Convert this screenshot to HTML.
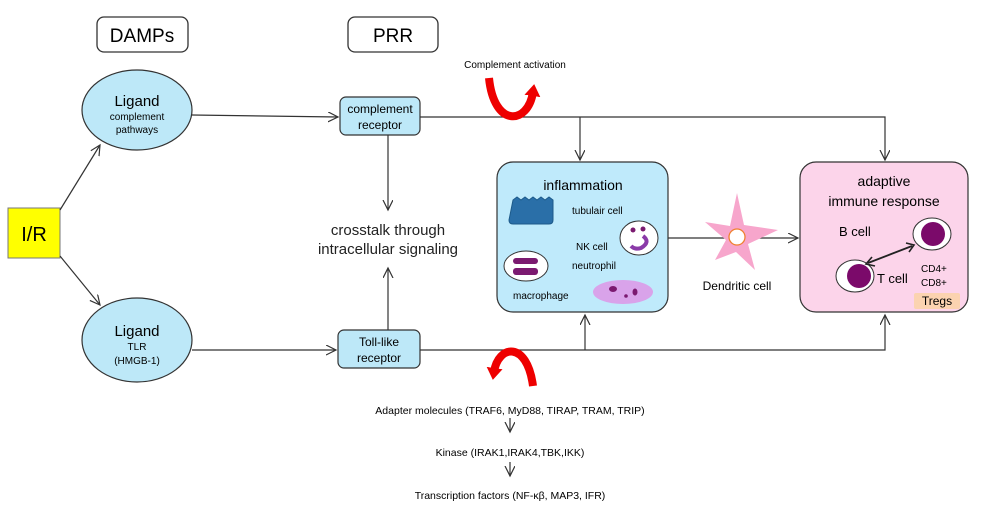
<!DOCTYPE html>
<html><head><meta charset="utf-8"><style>
body{margin:0;background:#fff}
svg{display:block;font-family:"Liberation Sans",Arial,sans-serif}
</style></head><body>
<svg width="987" height="517" viewBox="0 0 987 517">
<defs>
<marker id="a" markerWidth="12" markerHeight="12" refX="10" refY="5" orient="auto" markerUnits="userSpaceOnUse"><path d="M0,0 L10,5 L0,10" fill="none" stroke="#333" stroke-width="1.2"/></marker>
<marker id="r" markerWidth="20" markerHeight="20" refX="4" refY="8" orient="auto" markerUnits="userSpaceOnUse"><path d="M0,0 L12,8 L0,16 Z" fill="#e00"/></marker>
</defs>
<rect x="97" y="17" width="91" height="35" rx="7" fill="#fff" stroke="#333" stroke-width="1.3"/>
<text x="142" y="42" font-size="19" text-anchor="middle">DAMPs</text>
<rect x="348" y="17" width="90" height="35" rx="7" fill="#fff" stroke="#333" stroke-width="1.3"/>
<text x="393" y="42" font-size="19" text-anchor="middle">PRR</text>
<rect x="8" y="208" width="52" height="50" fill="#ffff00" stroke="#777"/>
<text x="34" y="241" font-size="20" text-anchor="middle">I/R</text>
<g stroke="#333" stroke-width="1.2" fill="none">
<line x1="60" y1="210" x2="100" y2="145" marker-end="url(#a)"/>
<line x1="60" y1="256" x2="100" y2="305" marker-end="url(#a)"/>
<line x1="192" y1="115" x2="338" y2="117" marker-end="url(#a)"/>
<line x1="192" y1="350" x2="336" y2="350" marker-end="url(#a)"/>
<line x1="388" y1="135" x2="388" y2="210" marker-end="url(#a)"/>
<line x1="388" y1="330" x2="388" y2="268" marker-end="url(#a)"/>
<polyline points="420,117 885,117 885,160" marker-end="url(#a)"/>
<line x1="580" y1="117" x2="580" y2="160" marker-end="url(#a)"/>
<polyline points="420,350 885,350 885,315" marker-end="url(#a)"/>
<line x1="585" y1="350" x2="585" y2="315" marker-end="url(#a)"/>
<line x1="668" y1="238" x2="798" y2="238" marker-end="url(#a)"/>
<line x1="510" y1="418" x2="510" y2="432" marker-end="url(#a)"/>
<line x1="510" y1="462" x2="510" y2="476" marker-end="url(#a)"/>
</g>
<ellipse cx="137" cy="110" rx="55" ry="40" fill="#bde8f8" stroke="#333" stroke-width="1.2"/>
<text x="137" y="106" font-size="15" text-anchor="middle">Ligand</text>
<text x="137" y="120" font-size="10" text-anchor="middle">complement</text>
<text x="137" y="133" font-size="10" text-anchor="middle">pathways</text>
<ellipse cx="137" cy="340" rx="55" ry="42" fill="#bde8f8" stroke="#333" stroke-width="1.2"/>
<text x="137" y="336" font-size="15" text-anchor="middle">Ligand</text>
<text x="137" y="350" font-size="10" text-anchor="middle">TLR</text>
<text x="137" y="364" font-size="10" text-anchor="middle">(HMGB-1)</text>
<rect x="340" y="97" width="80" height="38" rx="6" fill="#bde8f8" stroke="#333" stroke-width="1.2"/>
<text x="380" y="113" font-size="12" text-anchor="middle">complement</text>
<text x="380" y="129" font-size="12" text-anchor="middle">receptor</text>
<rect x="338" y="330" width="82" height="38" rx="6" fill="#bde8f8" stroke="#333" stroke-width="1.2"/>
<text x="379" y="346" font-size="12" text-anchor="middle">Toll-like</text>
<text x="379" y="362" font-size="12" text-anchor="middle">receptor</text>
<text x="388" y="235" font-size="15" text-anchor="middle" fill="#222">crosstalk through</text>
<text x="388" y="254" font-size="15" text-anchor="middle" fill="#222">intracellular signaling</text>
<text x="515" y="68" font-size="10" text-anchor="middle">Complement  activation</text>
<path d="M489,78 C494,128 528,125 533,92" fill="none" stroke="#e00" stroke-width="8" marker-end="url(#r)"/>
<path d="M533,386 C527,340 498,345 494,372" fill="none" stroke="#e00" stroke-width="8" marker-end="url(#r)"/>
<rect x="497" y="162" width="171" height="150" rx="16" fill="#bfeafb" stroke="#333" stroke-width="1.2"/>
<text x="583" y="190" font-size="14" text-anchor="middle">inflammation</text>
<path d="M513,200 l4,-3 4,3 4,-3 4,3 4,-3 4,3 4,-3 4,3 4,-3 4,3 v20 q0,4 -4,4 h-36 q-4,0 -4,-4 z" fill="#2a6fa8" stroke="#1d5a8a"/>
<text x="572" y="214" font-size="10">tubulair cell</text>
<text x="576" y="250" font-size="10">NK cell</text>
<text x="572" y="269" font-size="10">neutrophil</text>
<text x="513" y="299" font-size="10">macrophage</text>
<ellipse cx="639" cy="238" rx="19" ry="17" fill="#fff" stroke="#333"/>
<circle cx="633" cy="230" r="2.5" fill="#7b1a70"/><circle cx="643" cy="229" r="2.5" fill="#7b1a70"/>
<path d="M643,236 q8,6 -2,12 q-6,2 -10,-2" fill="none" stroke="#8a3aa8" stroke-width="4"/>
<ellipse cx="526" cy="266" rx="22" ry="15" fill="#fff" stroke="#333"/>
<rect x="513" y="258" width="25" height="6" rx="3" fill="#7b1a70"/><rect x="513" y="268" width="25" height="7" rx="3" fill="#7b1a70"/>
<ellipse cx="623" cy="292" rx="30" ry="12" fill="#d9a3ea"/>
<ellipse cx="613" cy="289" rx="4" ry="3" fill="#7b1a70"/><circle cx="626" cy="296" r="1.8" fill="#7b1a70"/><ellipse cx="635" cy="292" rx="2.5" ry="3.5" fill="#7b1a70"/>
<path d="M737,193 L744,225 L778,230 L748,244 L755,270 L736,252 L715,260 L726,240 L705,222 L730,226 Z" fill="#f7a6cc"/>
<circle cx="737" cy="237" r="8" fill="#fff" stroke="#f08030" stroke-width="1.3"/>
<text x="737" y="290" font-size="12" text-anchor="middle">Dendritic  cell</text>
<rect x="800" y="162" width="168" height="150" rx="16" fill="#fcd4ea" stroke="#333" stroke-width="1.2"/>
<text x="884" y="186" font-size="14" text-anchor="middle">adaptive</text>
<text x="884" y="206" font-size="14" text-anchor="middle">immune response</text>
<text x="839" y="236" font-size="13">B cell</text>
<text x="877" y="283" font-size="13">T cell</text>
<text x="921" y="272" font-size="10">CD4+</text>
<text x="921" y="286" font-size="10">CD8+</text>
<rect x="914" y="293" width="46" height="16" rx="2" fill="#fbd3b0"/>
<text x="937" y="305" font-size="12" text-anchor="middle">Tregs</text>
<ellipse cx="932" cy="234" rx="19" ry="16" fill="#fff" stroke="#333"/>
<circle cx="933" cy="234" r="12" fill="#7b0a6a"/>
<ellipse cx="855" cy="276" rx="19" ry="16" fill="#fff" stroke="#333"/>
<circle cx="859" cy="276" r="12" fill="#7b0a6a"/>
<line x1="868" y1="263" x2="912" y2="246" stroke="#222" stroke-width="1.8"/>
<path d="M872,257 L866,264 L875,266" fill="none" stroke="#222" stroke-width="1.6"/>
<path d="M906,243 L914,245 L909,252" fill="none" stroke="#222" stroke-width="1.6"/>
<text x="510" y="414" font-size="10.5" text-anchor="middle">Adapter molecules (TRAF6, MyD88,  TIRAP,  TRAM,  TRIP)</text>
<text x="510" y="456" font-size="10.5" text-anchor="middle">Kinase (IRAK1,IRAK4,TBK,IKK)</text>
<text x="510" y="499" font-size="10.5" text-anchor="middle">Transcription factors (NF-κβ, MAP3, IFR)</text>
</svg>
</body></html>
